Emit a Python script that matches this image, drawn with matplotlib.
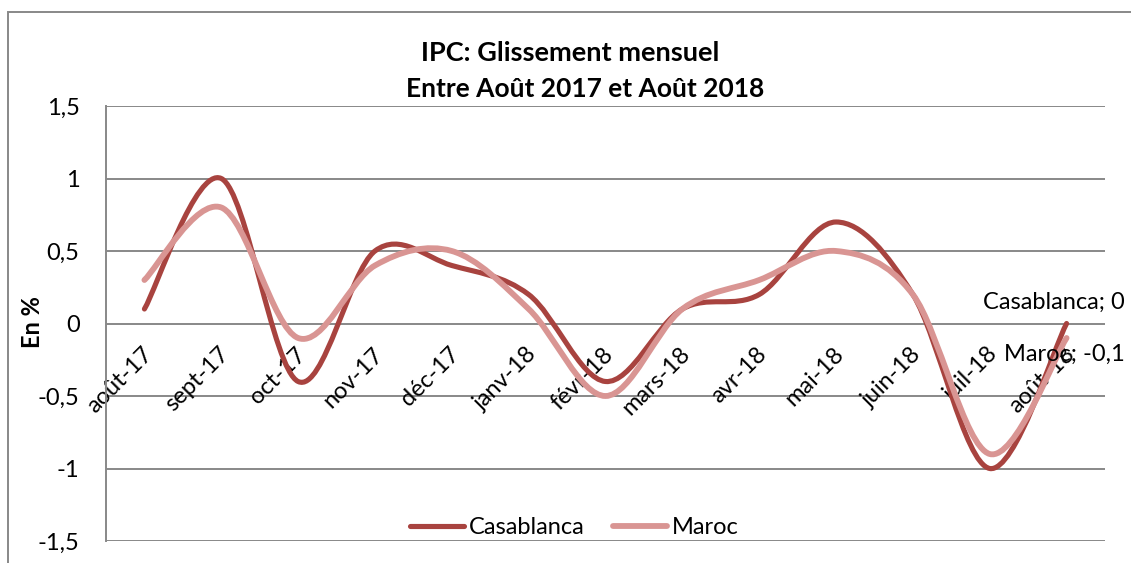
import numpy as np
import matplotlib
matplotlib.use("Agg")
import matplotlib.pyplot as plt
import matplotlib.transforms as mtransforms
from matplotlib.path import Path
from matplotlib.patches import PathPatch, Rectangle
from matplotlib.lines import Line2D

# ---- data ----
months = ["août-17", "sept-17", "oct-17", "nov-17", "déc-17", "janv-18", "févr-18",
          "mars-18", "avr-18", "mai-18", "juin-18", "juil-18", "août-18"]
casablanca = [0.1, 1.0, -0.4, 0.5, 0.4, 0.2, -0.4, 0.1, 0.2, 0.7, 0.2, -1.0, 0.0]
maroc = [0.3, 0.8, -0.1, 0.4, 0.5, 0.1, -0.5, 0.1, 0.3, 0.5, 0.2, -0.9, -0.1]
series_names = ["Casablanca", "Maroc"]
yticks = [-1.5, -1, -0.5, 0, 0.5, 1, 1.5]
ytick_labels = ["-1,5", "-1", "-0,5", "0", "0,5", "1", "1,5"]
title_line1 = "IPC: Glissement mensuel"
title_line2 = "Entre Août 2017 et Août 2018"
ylabel = "En %"
data_labels = ["Casablanca; 0", "Maroc; -0,1"]

plt.rcParams['font.family'] = ['Lato', 'DejaVu Sans']

W, H = 1131, 563
fig = plt.figure(figsize=(W / 100, H / 100), dpi=100)
ax = fig.add_axes([106 / W, 1 - 541 / H, 999 / W, 435 / H])

c_casa = "#A8433F"
c_maroc = "#D99593"
grid_c = "#888888"
FS = 17


def smooth_path(xs, ys):
    # Excel-like smoothed line: cubic Bezier through every point (Catmull-Rom tangents)
    pts = np.column_stack([xs, ys]).astype(float)
    n = len(pts)
    verts = [pts[0]]
    codes = [Path.MOVETO]
    for i in range(n - 1):
        p0 = pts[i - 1] if i > 0 else pts[i]
        p1 = pts[i]
        p2 = pts[i + 1]
        p3 = pts[i + 2] if i + 2 < n else pts[i + 1]
        c1 = p1 + (p2 - p0) / 6.0
        c2 = p2 - (p3 - p1) / 6.0
        verts += [c1, c2, p2]
        codes += [Path.CURVE4] * 3
    return Path(verts, codes)


x = np.arange(len(months))
for vals, col, lw in [(casablanca, c_casa, 3.7), (maroc, c_maroc, 4.2)]:
    patch = PathPatch(smooth_path(x, vals), facecolor="none", edgecolor=col, lw=lw,
                      capstyle="round", joinstyle="round", zorder=3)
    ax.add_patch(patch)

ax.set_xlim(-0.5, len(months) - 0.5)
ax.set_ylim(-1.5, 1.5)
ax.set_yticks(yticks)
ax.set_yticklabels(ytick_labels, fontsize=FS)
ax.tick_params(axis="y", length=0, pad=19, colors="black")
ax.set_xticks([])
ax.yaxis.grid(True, color=grid_c, lw=1.4)
ax.set_axisbelow(True)
for s in ["top", "right", "bottom"]:
    ax.spines[s].set_visible(False)
ax.spines["left"].set_color(grid_c)
ax.spines["left"].set_linewidth(1.4)

# category labels at the zero line
tr = mtransforms.offset_copy(ax.transData, fig=fig, x=-3, y=-20, units="dots")
for i, m in enumerate(months):
    ax.text(i, 0, m, transform=tr, rotation=45, ha="right", va="top",
            rotation_mode="anchor", fontsize=FS, color="black", zorder=2)

# data labels for last points
ax.annotate(data_labels[0], (x[-1], casablanca[-1]), xytext=(58, 21),
            textcoords="offset pixels", ha="right", va="center", fontsize=FS, zorder=5)
ax.annotate(data_labels[1], (x[-1], maroc[-1]), xytext=(58, -16),
            textcoords="offset pixels", ha="right", va="center", fontsize=FS, zorder=5)

# y label
fig.text(32 / W, 1 - 322 / H, ylabel, rotation=90, ha="center", va="center",
         fontsize=FS, fontweight="bold")

# title
fig.text(570 / W, 1 - 53 / H, title_line1, ha="center", va="center",
         fontsize=19.5, fontweight="bold")
fig.text(585 / W, 1 - 89 / H, title_line2, ha="center", va="center",
         fontsize=19, fontweight="bold")

# legend
handles = [Line2D([], [], color=c_casa, lw=3.7, solid_capstyle="round"),
           Line2D([], [], color=c_maroc, lw=4.2, solid_capstyle="round")]
fig.legend(handles, series_names, loc="center", bbox_to_anchor=(574 / W, 1 - 528 / H),
           ncol=2, frameon=False, fontsize=FS, handlelength=2.3, handletextpad=0.2,
           columnspacing=1.2, borderpad=0, borderaxespad=0)

# chart border
fig.patches.append(Rectangle((8 / W, -0.1), 1.2, 1 - 12.5 / H + 0.1, transform=fig.transFigure,
                             fill=False, edgecolor=grid_c, lw=1.4))

fig.savefig("out.png", dpi=100)
